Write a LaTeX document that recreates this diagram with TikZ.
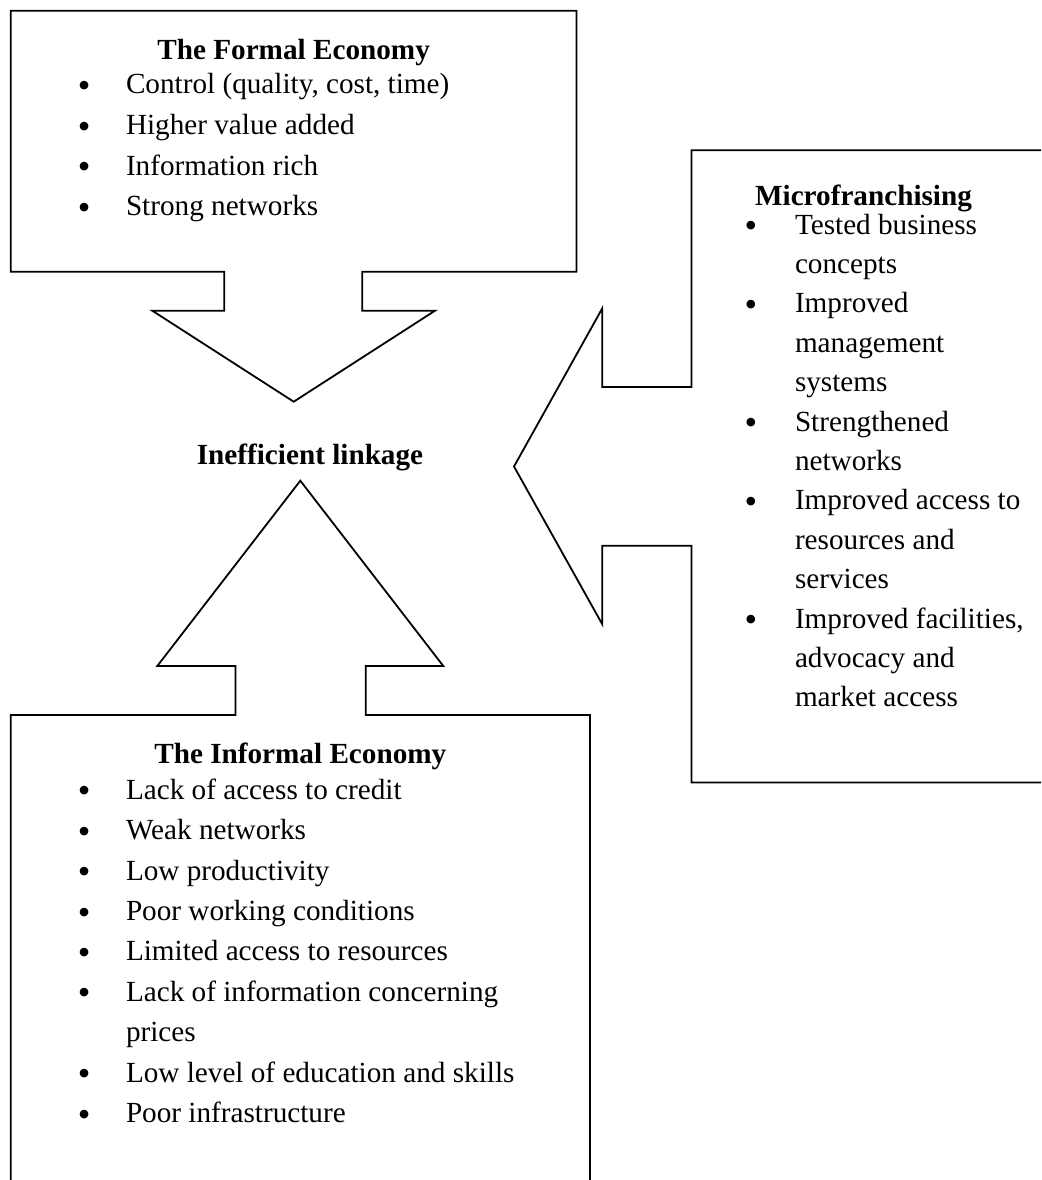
\documentclass[tikz,border=0pt]{standalone}
\usepackage{fontspec}
\setmainfont{Liberation Serif}
\begin{document}
\begin{tikzpicture}[x=1pt,y=-1pt,
  font=\fontsize{29.2}{39.4}\selectfont,
  every node/.style={inner sep=0pt, outer sep=0pt},
  callout/.style={draw=black, line width=1.8pt, line join=miter, fill=none},
  boxtitle/.style={anchor=base, font=\fontsize{29.2}{39.4}\selectfont\bfseries},
  itemtext/.style={anchor=base west},
  bul/.style={anchor=base, font=\fontsize{36}{36}\selectfont}]
\useasboundingbox (0,0) rectangle (1041,1180);
\clip (0,0) rectangle (1041,1180);

% outlines of the three callout boxes
\draw[callout] (10.7,10.7) -- (576.5,10.7) -- (576.5,271.7) -- (362.3,271.7)
  -- (362.3,310.7) -- (435,310.7) -- (293.7,401.7) -- (152.3,310.7)
  -- (224.3,310.7) -- (224.3,271.7) -- (10.7,271.7) -- cycle;
\draw[callout] (10.7,1195) -- (10.7,715) -- (235.5,715) -- (235.5,666)
  -- (157.3,666) -- (300.3,480.7) -- (443.3,666) -- (365.7,666)
  -- (365.7,715) -- (590,715) -- (590,1195);
\draw[callout] (1050,150.3) -- (691.5,150.3) -- (691.5,387) -- (602.3,387)
  -- (602.3,308.3) -- (514,466.5) -- (602.3,624.3) -- (602.3,545.7)
  -- (691.5,545.7) -- (691.5,782.5) -- (1050,782.5);

% formal economy
\node[boxtitle] (ftitle) at (293.6,60) {The Formal Economy};
\node[bul] (fb1) at (84.3,97.5) {•};
\node[itemtext] (f1) at (126,94) {Control (quality, cost, time)};
\node[bul] (fb2) at (84.3,138.1) {•};
\node[itemtext] (f2) at (126,134.6) {Higher value added};
\node[bul] (fb3) at (84.3,178.7) {•};
\node[itemtext] (f3) at (126,175.2) {Information rich};
\node[bul] (fb4) at (84.3,219.3) {•};
\node[itemtext] (f4) at (126,215.8) {Strong networks};

% centre label
\node[boxtitle] (link) at (310,464.5) {Inefficient linkage};

% microfranchising
\node[boxtitle] (mtitle) at (863.5,205) {Microfranchising};
\node[bul] (mb1) at (751,237.5) {•};
\node[itemtext] (m1) at (795,234) {Tested business};
\node[itemtext] (m2) at (795,273.4) {concepts};
\node[bul] (mb2) at (751,316.3) {•};
\node[itemtext] (m3) at (795,312.8) {Improved};
\node[itemtext] (m4) at (795,352.2) {management};
\node[itemtext] (m5) at (795,391.6) {systems};
\node[bul] (mb3) at (751,434.5) {•};
\node[itemtext] (m6) at (795,431) {Strengthened};
\node[itemtext] (m7) at (795,470.4) {networks};
\node[bul] (mb4) at (751,513.3) {•};
\node[itemtext] (m8) at (795,509.8) {Improved access to};
\node[itemtext] (m9) at (795,549.2) {resources and};
\node[itemtext] (m10) at (795,588.6) {services};
\node[bul] (mb5) at (751,631.5) {•};
\node[itemtext] (m11) at (795,628) {Improved facilities,};
\node[itemtext] (m12) at (795,667.4) {advocacy and};
\node[itemtext] (m13) at (795,706.8) {market access};

% informal economy
\node[boxtitle] (ititle) at (300.3,763.3) {The Informal Economy};
\node[bul] (ib1) at (84.3,802.8) {•};
\node[itemtext] (i1) at (126,799.3) {Lack of access to credit};
\node[bul] (ib2) at (84.3,843.2) {•};
\node[itemtext] (i2) at (126,839.7) {Weak networks};
\node[bul] (ib3) at (84.3,883.6) {•};
\node[itemtext] (i3) at (126,880.1) {Low productivity};
\node[bul] (ib4) at (84.3,924) {•};
\node[itemtext] (i4) at (126,920.5) {Poor working conditions};
\node[bul] (ib5) at (84.3,964.4) {•};
\node[itemtext] (i5) at (126,960.9) {Limited access to resources};
\node[bul] (ib6) at (84.3,1004.8) {•};
\node[itemtext] (i6) at (126,1001.3) {Lack of information concerning};
\node[itemtext] (i7) at (126,1041.7) {prices};
\node[bul] (ib7) at (84.3,1085.6) {•};
\node[itemtext] (i8) at (126,1082.1) {Low level of education and skills};
\node[bul] (ib8) at (84.3,1126) {•};
\node[itemtext] (i9) at (126,1122.5) {Poor infrastructure};
\end{tikzpicture}
\end{document}
